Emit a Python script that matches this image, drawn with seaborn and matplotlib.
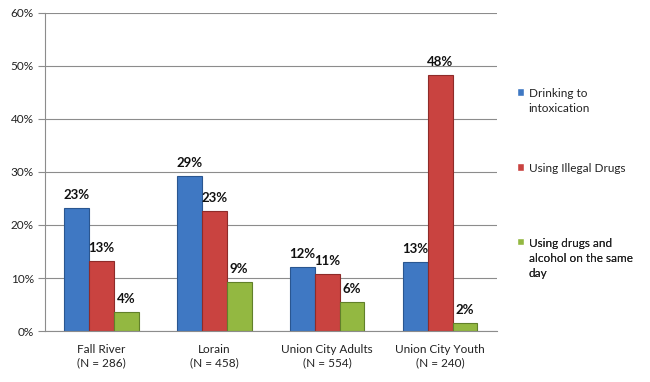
import pandas as pd
import matplotlib
matplotlib.use("Agg")
import matplotlib.pyplot as plt
import seaborn as sns
from matplotlib.ticker import PercentFormatter, FixedLocator

# chart values
sites = ["Fall River\n(N = 286)", "Lorain\n(N = 458)",
         "Union City Adults\n(N = 554)", "Union City Youth\n(N = 240)"]
series = ["Drinking to\nintoxication", "Using Illegal Drugs",
          "Using drugs and\nalcohol on the same\nday"]
drinking = [23.3, 29.2, 12.1, 13.1]
drugs = [13.2, 22.6, 10.7, 48.3]
both = [3.6, 9.2, 5.4, 1.6]
labels = [["23%", "29%", "12%", "13%"],
          ["13%", "23%", "11%", "48%"],
          ["4%", "9%", "6%", "2%"]]
colors = ["#3F78C3", "#C94340", "#93B841"]
edges = ["#2A5690", "#8E2B29", "#61802A"]

rows = []
for name, vals in zip(series, [drinking, drugs, both]):
    for s, v in zip(sites, vals):
        rows.append({"site": s, "series": name, "pct": v})
df = pd.DataFrame(rows)

sns.set_theme(style="white")
plt.rcParams["font.family"] = ["Lato", "DejaVu Sans"]

fig = plt.figure(figsize=(6.5, 3.82), dpi=100)
ax = fig.add_axes([0.069, 0.1335, 0.695, 0.8325])

sns.barplot(data=df, x="site", y="pct", hue="series", hue_order=series,
            palette=colors, width=0.66, saturation=1, ax=ax, legend=True)

for i, cont in enumerate(ax.containers):
    for bar in cont:
        bar.set_edgecolor(edges[i])
        bar.set_linewidth(0.8)
    ax.bar_label(cont, labels=labels[i], padding=5, fontsize=9.5,
                 fontweight="bold", color="#111111")

ax.set_ylim(0, 60)
ax.set_xlim(-0.5, 3.5)
ax.yaxis.set_major_locator(FixedLocator(range(0, 61, 10)))
ax.yaxis.set_major_formatter(PercentFormatter(decimals=0))
ax.grid(axis="y", color="#8C8C8C", linewidth=0.8)
ax.set_axisbelow(True)
ax.set_xlabel("")
ax.set_ylabel("")

for side in ["top", "right"]:
    ax.spines[side].set_visible(False)
for side in ["left", "bottom"]:
    ax.spines[side].set_color("#8C8C8C")
    ax.spines[side].set_linewidth(0.8)

ax.tick_params(axis="x", which="major", length=0, labelsize=8.5, pad=9,
               labelcolor="#222222")
for t in ax.get_xticklabels():
    t.set_linespacing(1.3)
ax.set_xticks([0.5, 1.5, 2.5], minor=True)
ax.tick_params(axis="x", which="minor", length=5, color="#8C8C8C", width=0.8)
ax.tick_params(axis="y", length=5, color="#8C8C8C", width=0.8, left=True,
               labelsize=8.5, labelcolor="#222222", pad=3)

# Excel spaces the legend entries evenly, so one small legend per series
handles, _ = ax.get_legend_handles_labels()
ax.get_legend().remove()
legend_tops = [0.784, 0.588, 0.393]
for h, name, top in zip(handles, series, legend_tops):
    leg = ax.legend([h], [name], loc="upper left", bbox_to_anchor=(0.786, top),
                    bbox_transform=fig.transFigure, frameon=False,
                    fontsize=8.5, handlelength=0.6, handleheight=0.6,
                    handletextpad=0.4, labelcolor="#222222", borderpad=0)
    leg.get_texts()[0].set_linespacing(1.45)
    for col in leg._legend_handle_box.get_children():
        for row in col.get_children():
            row.align = "top"
    ax.add_artist(leg)

fig.savefig("out.png", dpi=100)
